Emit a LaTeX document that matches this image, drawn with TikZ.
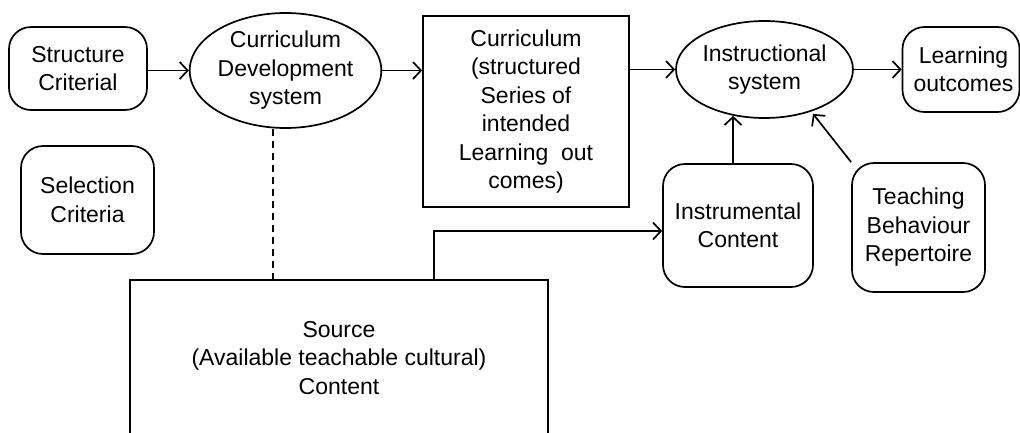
\documentclass[tikz,border=0pt]{standalone}
\usepackage{fontspec}
\setmainfont{Liberation Sans}
\usetikzlibrary{shapes.geometric,arrows.meta,calc}

\begin{document}
\begin{tikzpicture}[x=1pt,y=-1pt,
  every node/.style={font=\fontsize{23}{28.5}\selectfont, align=center, inner sep=0pt},
  box/.style={draw, line width=1.7pt, rectangle},
  rbox/.style={box, rounded corners=22pt},
  oval/.style={draw, line width=1.7pt, ellipse},
  arr/.style={line width=1.7pt, -{Straight Barb[length=8pt,width=17pt,line width=1.7pt]}},
  dashline/.style={line width=1.3pt, dash pattern=on 7pt off 5pt}]
\useasboundingbox (0,0) rectangle (1020,432);
\clip (0,0) rectangle (1020,432);

% left column
\node[rbox, minimum width=138pt, minimum height=83pt] (struct) at (78,68.5) {Structure\\Criterial};
\node[rbox, minimum width=133pt, minimum height=108pt] (select) at (87.5,200) {Selection\\Criteria};

% development and curriculum
\node[oval, minimum width=183pt, minimum height=115pt] (cds) at (285.5,70.5) {Curriculum\\Development\\system};
\node[box, minimum width=206pt, minimum height=191pt] (curric) at (526,111.5)
  {Curriculum\\(structured\\Series of\\intended\\Learning~~out\\comes)};

% instruction
\node[oval, minimum width=177pt, minimum height=97pt] (instr) at (764.5,69.5) {Instructional\\system};
\node[rbox, minimum width=117pt, minimum height=85pt] (learn) at (961,69.5)
  {\hspace*{5pt}Learning\\\hspace*{5pt}outcomes};
\node[rbox, minimum width=150pt, minimum height=123pt] (instrum) at (738,225.5) {Instrumental\\Content};
\node[rbox, minimum width=133pt, minimum height=129pt] (teach) at (918.5,227.5) {Teaching\\Behaviour\\Repertoire};

% source of content
\node[box, minimum width=418pt, minimum height=156pt] (src) at (339,358)
  {Source\\(Available teachable cultural)\\Content};

% connectors
\draw[arr] (struct.east |- cds) -- (cds);
\draw[arr] (cds) -- (cds -| curric.west);
\draw[arr] (instr -| curric.east) -- (instr);
\draw[arr] (instr) -- (instr -| learn.west);
\draw[arr] ([xshift=-5pt]instrum.north) -- ($(instrum.north |- instr.south)+(-5,-3)$);
\draw[arr, shorten >=3pt] (teach.north west) -- (instr.-42);
\draw[arr] ([xshift=95pt]src.north) |- ([yshift=-5.5pt]instrum.west);
\draw[dashline] ([xshift=-12.5pt]cds.south) -- ($([xshift=-12.5pt]cds.south |- src.north)+(0,5)$);
\end{tikzpicture}
\end{document}
